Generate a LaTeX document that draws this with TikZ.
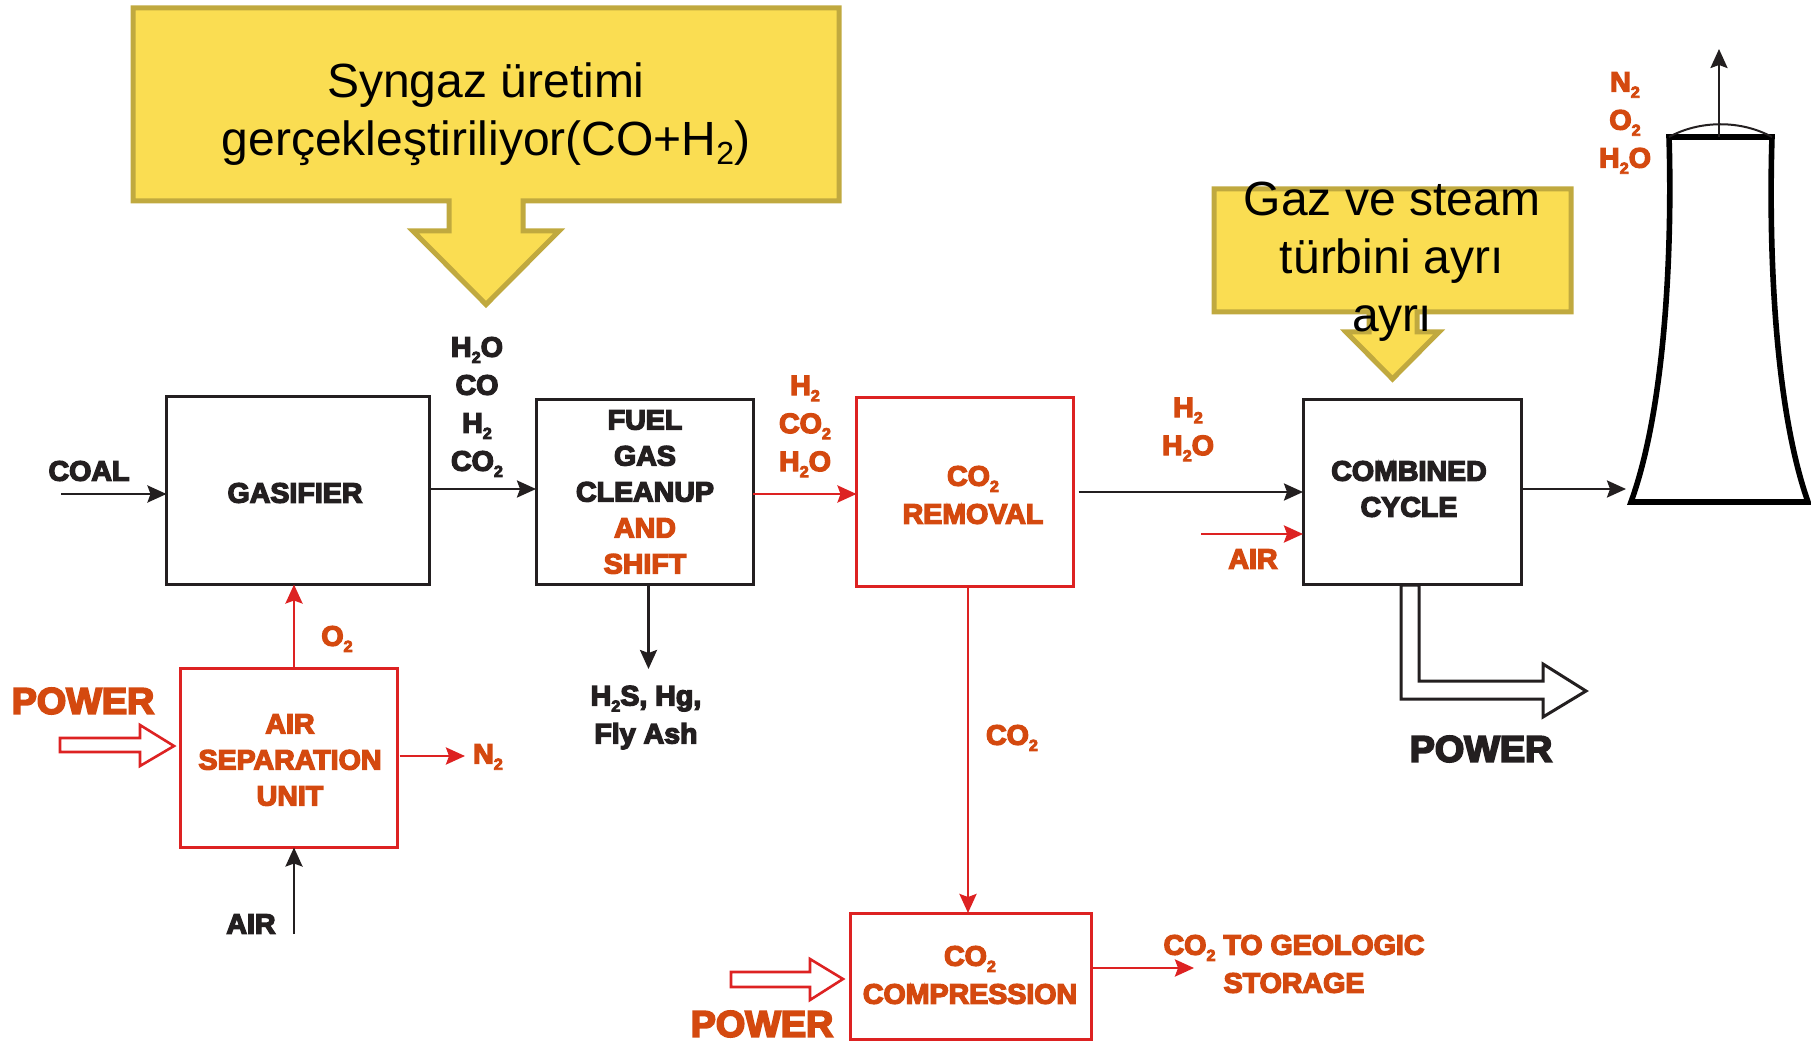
\documentclass[tikz,border=0pt]{standalone}
\usepackage{fontspec}
\usetikzlibrary{arrows.meta,calc}
\setmainfont{Liberation Sans}
\newfontfamily\lblfont[UprightFont=* Bold,FakeBold=5,FakeStretch=1.02]{Liberation Sans}
\definecolor{ink}{HTML}{231F20}
\definecolor{orng}{HTML}{D4490F}
\definecolor{redl}{HTML}{DD2222}
\definecolor{yfill}{HTML}{FADD52}
\definecolor{yline}{HTML}{C0A93F}
\newcommand{\lowtwo}{\raisebox{-.42ex}{\fontsize{8}{8}\selectfont 2}}
\tikzset{
  x=.5pt,y=-.5pt,
  boxk/.style={draw=ink,line width=1.5pt,fill=none,inner sep=0,outer sep=0},
  boxr/.style={draw=redl,line width=1.5pt,fill=none,inner sep=0,outer sep=0},
  lbl/.style={inner sep=0,outer sep=0,align=center,text=ink,font=\lblfont\fontsize{14}{18}\selectfont},
  lblw/.style={lbl,font=\lblfont\fontsize{14}{19}\selectfont},
  lblr/.style={lbl,text=orng},
  lblwr/.style={lblw,text=orng},
  bigk/.style={lbl,font=\lblfont\fontsize{18.5}{22}\selectfont},
  bigr/.style={bigk,text=orng},
  call/.style={draw=yline,line width=2.5pt,fill=yfill,miter limit=10},
  calltxt/.style={inner sep=0,outer sep=0,align=center,text=black,font=\fontsize{24}{29}\selectfont},
  ka/.style={draw=ink,line width=1.3pt,-{Stealth[length=9.5pt,width=8.5pt,inset=1.5pt]}},
  ra/.style={draw=redl,line width=1.4pt,-{Stealth[length=9.5pt,width=8.5pt,inset=1.5pt]}},
  hollowr/.style={draw=redl,line width=1.3pt,fill=white,miter limit=10},
  hollowk/.style={draw=ink,line width=1.5pt,fill=white,miter limit=10},
  tower/.style={draw=black,line width=2.8pt,line join=miter},
}
\begin{document}
\begin{tikzpicture}
\useasboundingbox (0,0) rectangle (1811,1043);
% callouts
\draw[call] (133,8) -- (839,8) -- (839,201) -- (523,201) -- (523,231) -- (559,231) -- (486,304.5) -- (413,231) -- (449,231) -- (449,201) -- (133,201) -- cycle;
\draw[call] (1214,189) -- (1571,189) -- (1571,312) -- (1417,312) -- (1417,332) -- (1439,332) -- (1392.5,379) -- (1346,332) -- (1369,332) -- (1369,312) -- (1214,312) -- cycle;
\node[calltxt] (t1) at (486,114) {Syngaz üretimi\\gerçekleştiriliyor(CO+H\raisebox{-.2em}{\fontsize{16}{16}\selectfont 2})};
\node[calltxt] (t2) at (1392,262) {Gaz ve steam\\türbini ayrı\\ayrı};
% boxes
\node[boxk,minimum width=131.5pt,minimum height=94pt] (gas) at (298,490.5) {};
\node[boxk,minimum width=108.5pt,minimum height=92.5pt] (fuel) at (644.5,492) {};
\node[boxr,minimum width=108.5pt,minimum height=94.5pt] (rem) at (965,492) {};
\node[boxk,minimum width=109pt,minimum height=92.5pt] (cc) at (1412,492) {};
\node[boxr,minimum width=108.5pt,minimum height=89.5pt] (asu) at (289,758) {};
\node[boxr,minimum width=120.5pt,minimum height=63pt] (comp) at (970.5,976) {};
% tower
\draw[tower] (1669,137) -- (1772,137)
  .. controls (1769,230) and (1772,400) .. (1808,502) -- (1631,502)
  .. controls (1668,400) and (1672,230) .. (1669,137) -- cycle;
\draw[draw=ink,line width=1pt] (1669,137) .. controls (1700,120) and (1741,120) .. (1772,137);
\coordinate (towertop) at (1719,137);
\coordinate (towerin) at (1626,489);
\coordinate (stack) at (1719,49);
\coordinate (coalin) at (61,494);
\coordinate (airin) at (294,934);
\coordinate (n2out) at (465,756);
\coordinate (ashout) at (648.5,669);
\coordinate (geo) at (1194,968);
\coordinate (airr) at (1201,534);
% connectors
\draw[ka] (coalin) -- (coalin -| gas.west);
\draw[ka] (gas.east |- 0,489) -- (fuel.west |- 0,489);
\draw[ra] (fuel.east |- 0,494) -- (rem.west |- 0,494);
\draw[ka] ($(rem.east |- 0,492)+(5,0)$) -- (cc.west |- 0,492);
\draw[ra] (airr) -- (airr -| cc.west);
\draw[ka] (cc.east |- towerin) -- (towerin);
\draw[ka] (towertop) -- (stack);
\draw[ra] (294,0 |- asu.north) -- (294,0 |- gas.south);
\draw[ka] (airin) -- (airin |- asu.south);
\draw[ra] ($(asu.east |- n2out)+(2,0)$) -- (n2out);
\draw[ka] (ashout |- fuel.south) -- (ashout);
\draw[ra] (968,0 |- rem.south) -- (968,0 |- comp.north);
\draw[ra] (comp.east |- geo) -- (geo);
% hollow arrows
\draw[hollowr] (60,738) -- (140,738) -- (140,725) -- (174,746) -- (140,766) -- (140,752) -- (60,752) -- cycle;
\draw[hollowr] (731,972) -- (810,972) -- (810,959) -- (843,979) -- (810,1000) -- (810,987) -- (731,987) -- cycle;
\draw[hollowk] (1401,585) -- (1419,585) -- (1419,681) -- (1543,681) -- (1543,664) -- (1586,691) -- (1543,717) -- (1543,699) -- (1401,699) -- cycle;
% labels
\node[lbl] (lcoal) at (89,471) {COAL};
\node[lbl] (lgas) at (295,493) {GASIFIER};
\node[lblw] (lsyn) at (477,407) {H\lowtwo O\\CO\\H\lowtwo\\CO\lowtwo};
\node[lbl] (lfuel) at (645,492) {FUEL\\GAS\\CLEANUP\\\textcolor{orng}{AND}\\\textcolor{orng}{SHIFT}};
\node[lblwr] (lshift) at (805,426.5) {H\lowtwo\\CO\lowtwo\\H\lowtwo O};
\node[lblwr] (lrem) at (973,495) {CO\lowtwo\\REMOVAL};
\node[lblwr] (lh) at (1188,429.5) {H\lowtwo\\H\lowtwo O};
\node[lbl] (lcc) at (1409,489) {COMBINED\\CYCLE};
\node[lblr] (lairr) at (1253,559) {AIR};
\node[bigk] (lpk) at (1481,749) {POWER};
\node[lblwr] (ltop) at (1625,123) {N\lowtwo\\O\lowtwo\\H\lowtwo O};
\node[lblr] (lo2) at (337,639) {O\lowtwo};
\node[bigr] (lp1) at (83,701) {POWER};
\node[lblr] (lasu) at (290,760) {AIR\\SEPARATION\\UNIT};
\node[lblr] (ln2) at (488,757) {N\lowtwo};
\node[lbl] (lair) at (251,924) {AIR};
\node[lblw] (lash) at (646,717.5) {H\lowtwo S, Hg,\\Fly Ash};
\node[lblr] (lco2) at (1012,738) {CO\lowtwo};
\node[lblw,text=orng] (lcomp) at (970,975) {CO\lowtwo\\COMPRESSION};
\node[bigr] (lp2) at (762,1024) {POWER};
\node[lblwr] (lgeo) at (1294,964) {CO\lowtwo{} TO GEOLOGIC\\STORAGE};
\end{tikzpicture}
\end{document}
